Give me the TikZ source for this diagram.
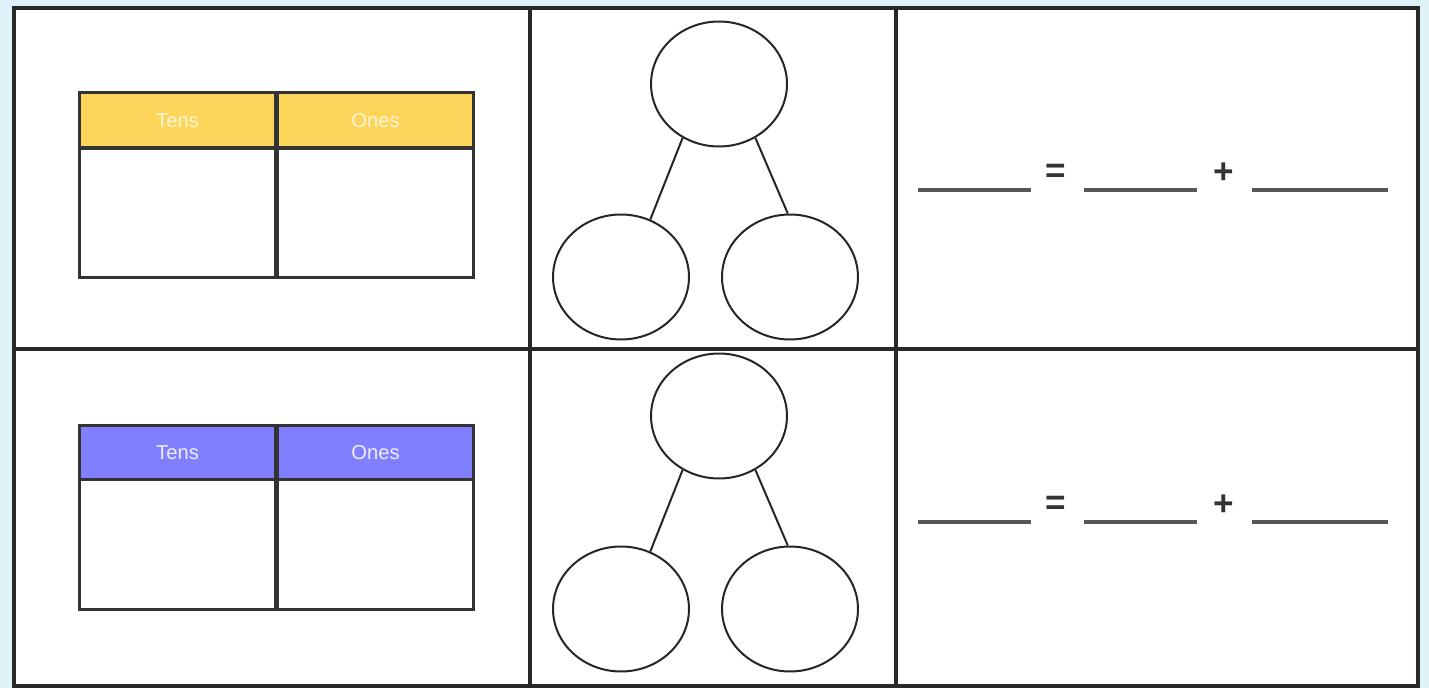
\documentclass[tikz,border=0pt]{standalone}
\usepackage{fontspec}
\setmainfont{Liberation Sans}
\usetikzlibrary{shapes.geometric}
\definecolor{bgblue}{RGB}{221,243,248}
\definecolor{tenyellow}{RGB}{253,213,90}
\definecolor{tenblue}{RGB}{128,128,255}
\definecolor{gridline}{RGB}{40,40,40}
\definecolor{blankline}{RGB}{85,85,85}
\tikzset{
  grid/.style={draw=gridline, line width=0.07cm},
  hcell/.style={rectangle, draw=black!80, line width=0.06cm, minimum width=3.94cm, minimum height=1.1cm, inner sep=0pt, font=\fontsize{11.5}{14}\selectfont},
  bcell/.style={rectangle, draw=black!80, line width=0.06cm, fill=white, minimum width=3.94cm, minimum height=2.6cm, inner sep=0pt},
  bubble/.style={ellipse, draw=black!85, line width=0.04cm, fill=white, minimum width=2.72cm, minimum height=2.5cm, inner sep=0pt},
  link/.style={draw=black!85, line width=0.04cm},
  sign/.style={font=\fontsize{20}{24}\selectfont\bfseries, text=black!80, inner sep=0pt},
  blank/.style={draw=blankline, line width=0.065cm},
}
\begin{document}
\begin{tikzpicture}[x=0.02cm,y=-0.02cm]
\useasboundingbox[fill=bgblue] (0,0) rectangle (1429,688);
\fill[white] (14,8) rectangle (1418,686);
% grid
\draw[grid] (14,8) rectangle (1418,686);
\draw[grid] (530,8) -- (530,686);
\draw[grid] (896,8) -- (896,686);
\draw[grid] (14,349) -- (1418,349);

% top table
\node[hcell, fill=tenyellow, text=white!75!tenyellow] (th1) at (177.5,120.5) {Tens};
\node[hcell, fill=tenyellow, text=white!75!tenyellow] (th2) at (375.5,120.5) {Ones};
\node[bcell] (tb1) at (177.5,213) {};
\node[bcell] (tb2) at (375.5,213) {};

% bottom table
\node[hcell, fill=tenblue, text=white!85!tenblue] (bh1) at (177.5,452.5) {Tens};
\node[hcell, fill=tenblue, text=white!85!tenblue] (bh2) at (375.5,452.5) {Ones};
\node[bcell] (bb1) at (177.5,544.5) {};
\node[bcell] (bb2) at (375.5,544.5) {};

% top part-whole
\node[bubble] (tw) at (719,84) {};
\node[bubble] (tl) at (621,277) {};
\node[bubble] (tr) at (790,277) {};
\draw[link] (tw.236) -- (tl.63);
\draw[link] (tw.304) -- (tr.92);

% bottom part-whole
\node[bubble] (bw) at (719,416) {};
\node[bubble] (bl) at (621,609) {};
\node[bubble] (br) at (790,609) {};
\draw[link] (bw.236) -- (bl.63);
\draw[link] (bw.304) -- (br.92);

% equations
\coordinate (ta1) at (918,190); \coordinate (ta2) at (1031,190);
\coordinate (tb1e) at (1084,190); \coordinate (tb2e) at (1197,190);
\coordinate (tc1) at (1252,190); \coordinate (tc2) at (1388,190);
\draw[blank] (ta1) -- (ta2);
\draw[blank] (tb1e) -- (tb2e);
\draw[blank] (tc1) -- (tc2);
\node[sign] (teq) at (1056,173) {=};
\node[sign] (tplus) at (1224,173) {+};

\coordinate (ba1) at (918,522); \coordinate (ba2) at (1031,522);
\coordinate (bb1e) at (1084,522); \coordinate (bb2e) at (1197,522);
\coordinate (bc1) at (1252,522); \coordinate (bc2) at (1388,522);
\draw[blank] (ba1) -- (ba2);
\draw[blank] (bb1e) -- (bb2e);
\draw[blank] (bc1) -- (bc2);
\node[sign] (beq) at (1056,505) {=};
\node[sign] (bplus) at (1224,505) {+};
\end{tikzpicture}
\end{document}
